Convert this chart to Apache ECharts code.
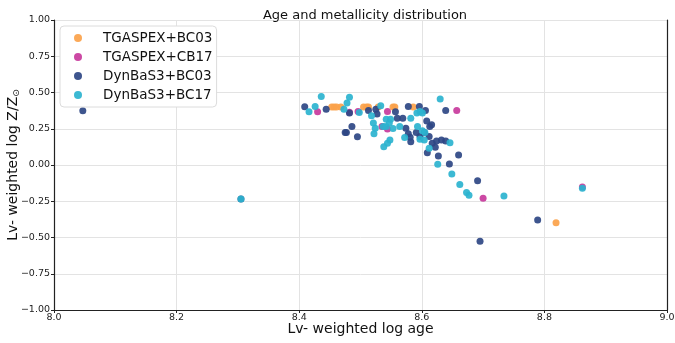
<!DOCTYPE html>
<html>
<head>
<meta charset="utf-8">
<script src="https://cdn.jsdelivr.net/npm/echarts@6/dist/echarts.min.js"></script>
<style>
  html, body { margin: 0; padding: 0; background: #fff; }
  #chart { width: 675px; height: 343px; }
</style>
</head>
<body>
<div id="chart"></div>
<script>
// [log age, log Z/Zsun]
const tgaspexBc03 = [
  [8.453, 0.40], [8.457, 0.40], [8.461, 0.40], [8.468, 0.40], [8.505, 0.40],
  [8.510, 0.40], [8.513, 0.40], [8.529, 0.40], [8.553, 0.40], [8.556, 0.40],
  [8.586, 0.40], [8.819, -0.399]
]
const tgaspexCb17 = [
  [8.430, 0.367], [8.482, 0.363], [8.496, 0.369], [8.544, 0.369], [8.535, 0.265],
  [8.544, 0.249], [8.657, 0.376], [8.700, -0.230], [8.862, -0.152]
]
const dynbasBc03 = [
  [8.047, 0.374], [8.305, -0.235], [8.409, 0.401], [8.444, 0.385], [8.482, 0.358],
  [8.513, 0.376], [8.525, 0.385], [8.527, 0.351], [8.557, 0.367], [8.578, 0.403],
  [8.596, 0.403], [8.606, 0.376], [8.639, 0.376], [8.560, 0.323], [8.569, 0.323],
  [8.486, 0.266], [8.475, 0.224], [8.477, 0.224], [8.495, 0.194], [8.574, 0.254],
  [8.608, 0.304], [8.616, 0.277], [8.613, 0.265], [8.591, 0.224], [8.597, 0.196],
  [8.604, 0.224], [8.578, 0.215], [8.581, 0.192], [8.582, 0.161], [8.612, 0.196],
  [8.624, 0.166], [8.632, 0.173], [8.639, 0.166], [8.617, 0.150], [8.622, 0.122],
  [8.609, 0.085], [8.627, 0.062], [8.660, 0.069], [8.645, 0.007], [8.691, -0.109],
  [8.789, -0.379], [8.695, -0.526]
]
const dynbasBc17 = [
  [8.436, 0.473], [8.482, 0.467], [8.478, 0.427], [8.630, 0.455], [8.416, 0.367],
  [8.426, 0.403], [8.473, 0.385], [8.498, 0.362], [8.533, 0.408], [8.518, 0.339],
  [8.521, 0.289], [8.524, 0.254], [8.522, 0.215], [8.542, 0.316], [8.549, 0.316],
  [8.537, 0.265], [8.542, 0.265], [8.547, 0.289], [8.553, 0.251], [8.564, 0.265],
  [8.582, 0.323], [8.592, 0.358], [8.597, 0.369], [8.601, 0.358], [8.593, 0.265],
  [8.601, 0.237], [8.605, 0.224], [8.572, 0.189], [8.597, 0.178], [8.604, 0.173],
  [8.646, 0.154], [8.612, 0.116], [8.548, 0.173], [8.544, 0.150], [8.538, 0.126],
  [8.626, 0.005], [8.649, -0.062], [8.662, -0.134], [8.673, -0.189], [8.677, -0.208],
  [8.734, -0.213], [8.862, -0.161], [8.305, -0.235]
]

const seriesNames = ['TGASPEX+BC03', 'TGASPEX+CB17', 'DynBaS3+BC03', 'DynBaS3+BC17']
const seriesColors = ['#fba24a', '#c83a9c', '#2e4784', '#2bb3cf']
const seriesData = [tgaspexBc03, tgaspexCb17, dynbasBc03, dynbasBc17]

const xTicks = { min: 8.0, max: 9.0, interval: 0.2 }
const yTicks = { min: -1.0, max: 1.0, interval: 0.25 }

const font = 'DejaVu Sans'
const chart = echarts.init(document.getElementById('chart'))

const gridLine = { show: true, lineStyle: { color: '#e3e3e3', width: 1 } }
const tickLabel = { color: '#222', fontSize: 9.5, fontFamily: font }
const minus = (s) => s.replace('-', '\u2212')

chart.setOption({
  animation: false,
  backgroundColor: '#fff',
  textStyle: { fontFamily: font },
  title: {
    text: 'Age and metallicity distribution',
    left: 360, top: 4, textAlign: 'center',
    textStyle: { fontSize: 13, fontWeight: 'normal', color: '#111', fontFamily: font }
  },
  legend: {
    orient: 'vertical',
    left: 60, top: 26,
    padding: [5, 4, 5, 14],
    itemWidth: 8, itemHeight: 8, itemGap: 5,
    icon: 'circle',
    backgroundColor: '#fff',
    borderColor: '#dcdcdc', borderWidth: 1, borderRadius: 4,
    textStyle: { fontSize: 13.5, color: '#111', fontFamily: font, padding: [0, 0, 0, 16] },
    data: seriesNames
  },
  grid: { left: 54, right: 8, top: 20, bottom: 33, containLabel: false, outerBoundsMode: 'none' },
  xAxis: {
    type: 'value',
    min: xTicks.min, max: xTicks.max, interval: xTicks.interval,
    name: 'Lv- weighted log age',
    nameLocation: 'middle', nameGap: 12, nameMoveOverlap: false,
    nameTextStyle: { fontSize: 14, color: '#111', fontFamily: font },
    axisLine: { show: true, onZero: false, lineStyle: { color: '#222', width: 1.2 } },
    axisTick: { show: true, length: 3, lineStyle: { color: '#222' } },
    axisLabel: { ...tickLabel, margin: 3, formatter: (v) => v.toFixed(1) },
    splitLine: gridLine
  },
  yAxis: [{
    type: 'value',
    min: yTicks.min, max: yTicks.max, interval: yTicks.interval,
    name: '{a|Lv- weighted log Z/Z}{s|\u2299}',
    nameLocation: 'middle', nameGap: 33, nameRotate: 90, nameMoveOverlap: false,
    nameTextStyle: {
      fontSize: 14, color: '#111', fontFamily: font,
      rich: {
        a: { fontSize: 14, color: '#111', fontFamily: font },
        s: { fontSize: 9, color: '#111', fontFamily: font, verticalAlign: 'bottom', padding: [6, 0, 0, 0] }
      }
    },
    axisLine: { show: true, onZero: false, lineStyle: { color: '#222', width: 1.2 } },
    axisTick: { show: true, length: 3, lineStyle: { color: '#222' } },
    axisLabel: { ...tickLabel, margin: 4, formatter: (v) => minus(v.toFixed(2)) },
    splitLine: gridLine
  }, {
    type: 'value', position: 'right',
    min: yTicks.min, max: yTicks.max, interval: yTicks.interval,
    axisLine: { show: true, lineStyle: { color: '#222', width: 1.2 } },
    axisTick: { show: false }, axisLabel: { show: false }, splitLine: { show: false }
  }],
  series: seriesData.map((d, i) => ({
    name: seriesNames[i],
    type: 'scatter',
    data: d,
    symbolSize: 7,
    itemStyle: { color: seriesColors[i], opacity: 0.92 }
  }))
})
</script>
</body>
</html>
